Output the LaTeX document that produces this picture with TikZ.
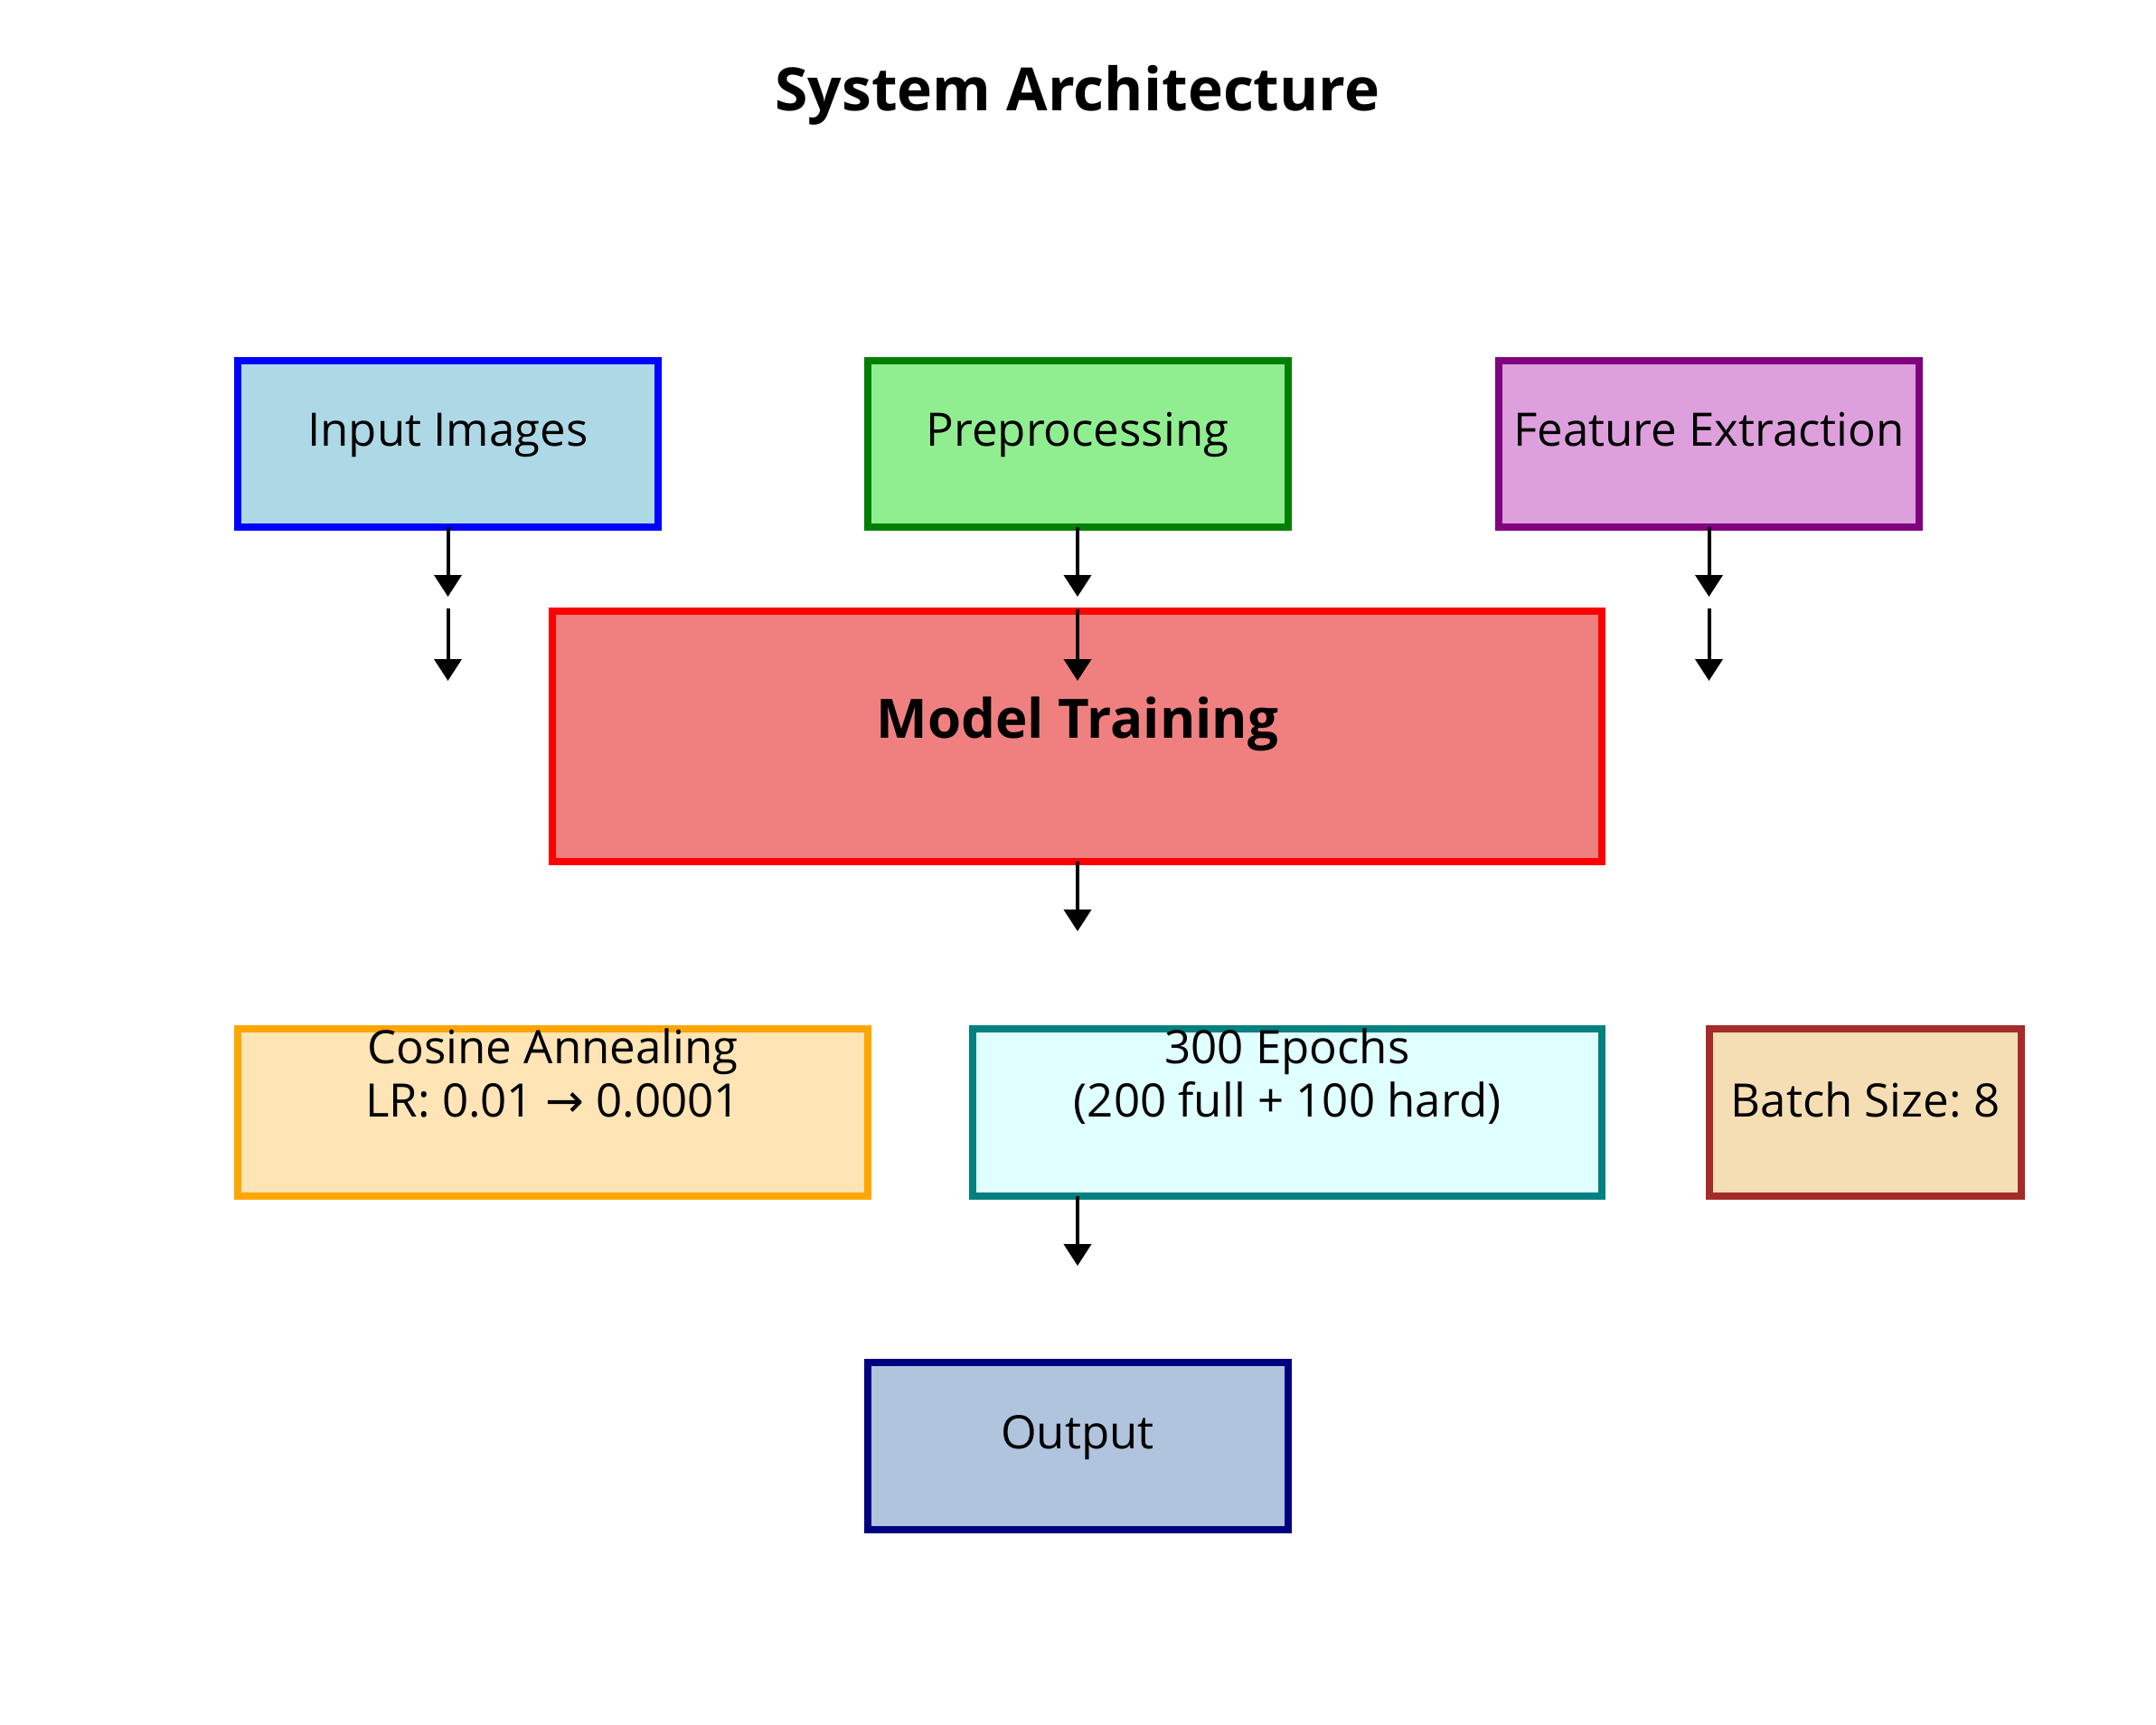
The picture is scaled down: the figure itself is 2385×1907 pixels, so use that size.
\documentclass[tikz,border=0pt]{standalone}
\usepackage{fontspec}
\setmainfont{Open Sans}
\newfontfamily\symfont{DejaVu Sans}
\usetikzlibrary{arrows.meta}
\frenchspacing
\definecolor{cInF}{RGB}{173,216,230}\definecolor{cInD}{RGB}{0,0,255}
\definecolor{cPrF}{RGB}{144,238,144}\definecolor{cPrD}{RGB}{0,128,0}
\definecolor{cFeF}{RGB}{221,160,221}\definecolor{cFeD}{RGB}{128,0,128}
\definecolor{cMoF}{RGB}{240,128,128}\definecolor{cMoD}{RGB}{255,0,0}
\definecolor{cCoF}{RGB}{255,228,181}\definecolor{cCoD}{RGB}{255,165,0}
\definecolor{cEpF}{RGB}{224,255,255}\definecolor{cEpD}{RGB}{0,128,128}
\definecolor{cBaF}{RGB}{245,222,179}\definecolor{cBaD}{RGB}{165,42,42}
\definecolor{cOuF}{RGB}{176,196,222}\definecolor{cOuD}{RGB}{0,0,128}
\tikzset{
  x=1pt,y=-1pt,
  box/.style={draw,line width=8pt,rectangle,inner sep=0pt,outer sep=0pt},
  txt/.style={anchor=base,inner sep=0pt,font=\fontsize{51}{58}\selectfont\frenchspacing,align=center},
  ttxt/.style={anchor=base,inner sep=0pt,font=\fontsize{66}{72}\selectfont\bfseries},
  btxt/.style={anchor=base,inner sep=0pt,font=\fontsize{60}{66}\selectfont\bfseries},
  arr/.style={line width=4pt,-{Triangle[width=30pt,length=24pt]}},
}
\begin{document}
\begin{tikzpicture}
\useasboundingbox (0,0) rectangle (2385,1907);
\node[ttxt] (title) at (1192,122) {System Architecture};
% top row
\node[box,fill=cInF,draw=cInD,minimum width=465pt,minimum height=184pt] (inp) at (495.5,491) {};
\node[box,fill=cPrF,draw=cPrD,minimum width=465pt,minimum height=184pt] (pre) at (1192,491) {};
\node[box,fill=cFeF,draw=cFeD,minimum width=465pt,minimum height=184pt] (fea) at (1890.5,491) {};
% model
\node[box,fill=cMoF,draw=cMoD,minimum width=1161pt,minimum height=277pt] (mod) at (1191.5,814.5) {};
% middle row
\node[box,fill=cCoF,draw=cCoD,minimum width=697pt,minimum height=185pt] (cos) at (611.5,1230.5) {};
\node[box,fill=cEpF,draw=cEpD,minimum width=696pt,minimum height=185pt] (epo) at (1424,1230.5) {};
\node[box,fill=cBaF,draw=cBaD,minimum width=345pt,minimum height=185pt] (bat) at (2063.5,1230.5) {};
% output
\node[box,fill=cOuF,draw=cOuD,minimum width=465pt,minimum height=185pt] (out) at (1192,1599.5) {};
% texts
\node[txt] (tinp) at (495.5,493) {Input Images};
\node[txt] (tpre) at (1192,493) {Preprocessing};
\node[txt] (tfea) at (1890.5,493) {Feature Extraction};
\node[btxt] (tmod) at (1192,816) {Model Training};
\node[txt] (tcos1) at (611.5,1176) {Cosine Annealing};
\node[txt] (tcos2) at (611.5,1235) {LR: 0.01 {\symfont →} 0.0001};
\node[txt] (tepo1) at (1424,1176) {300 Epochs};
\node[txt] (tepo2) at (1424,1235) {(200 full + 100 hard)};
\node[txt] (tbat) at (2063.5,1235) {Batch Size: 8};
\node[txt] (tout) at (1192,1602) {Output};
% arrow end coordinates
\coordinate (a1) at (495.5,660);
\coordinate (b1s) at (495.5,673);
\coordinate (b1) at (495.5,753);
\coordinate (a2) at (1192,660);
\coordinate (b2s) at (1192,674);
\coordinate (b2) at (1192,753);
\coordinate (a3) at (1890.5,660);
\coordinate (b3s) at (1890.5,673);
\coordinate (b3) at (1890.5,753);
\coordinate (a4) at (1192,1030);
\coordinate (a5) at (1192,1400);
\draw[arr] (inp.south) -- (a1);
\draw[arr] (b1s) -- (b1);
\draw[arr] (pre.south) -- (a2);
\draw[arr] (b2s) -- (b2);
\draw[arr] (fea.south) -- (a3);
\draw[arr] (b3s) -- (b3);
\draw[arr] (a4 |- mod.south) -- (a4);
\draw[arr] (a5 |- epo.south) -- (a5);
\end{tikzpicture}
\end{document}
